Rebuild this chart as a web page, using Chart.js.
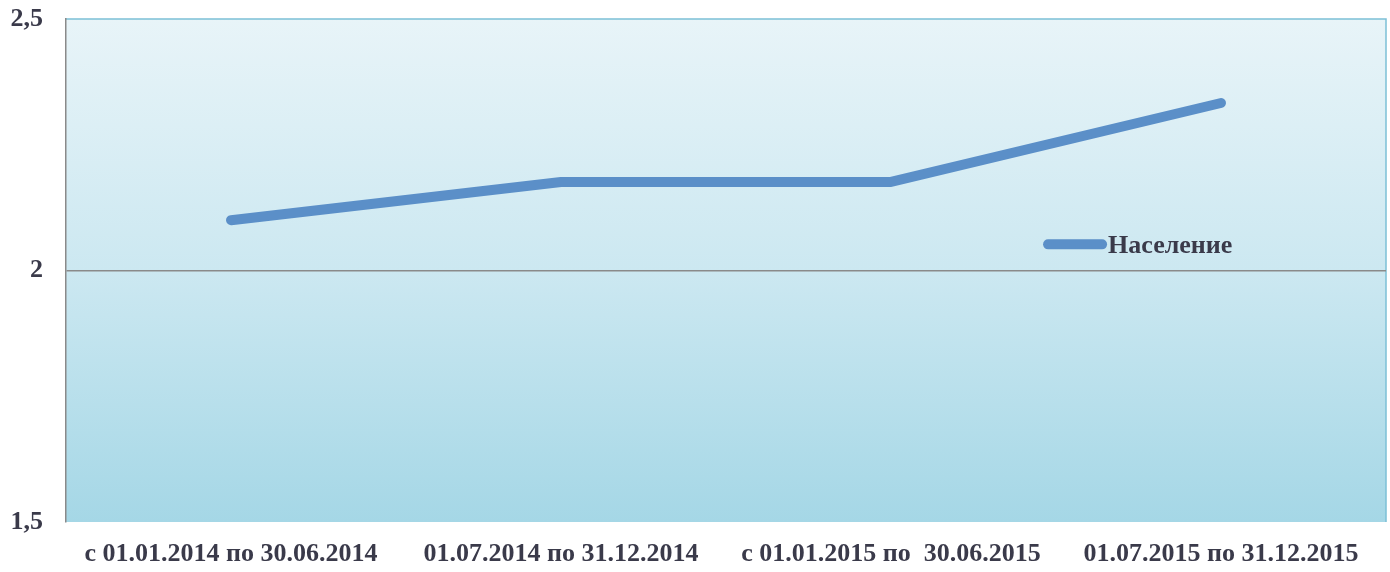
<!DOCTYPE html>
<html>
<head>
<meta charset="utf-8">
<script src="https://cdn.jsdelivr.net/npm/chart.js@4/dist/chart.umd.min.js"></script>
<style>
  html, body { margin: 0; padding: 0; background: #fff; }
  #wrap { width: 1390px; height: 572px; }
</style>
</head>
<body>
<div id="wrap"><canvas id="chart"></canvas></div>
<script>
// data
const periods = ['с 01.01.2014 по 30.06.2014', '01.07.2014 по 31.12.2014', 'с 01.01.2015 по  30.06.2015', '01.07.2015 по 31.12.2015'];
const population = [2.1, 2.176, 2.176, 2.333];
const seriesName = 'Население';
const yMin = 1.5, yMax = 2.5, yStep = 0.5;

const lineColor = '#5b8fc8';
const fontFamily = '"Liberation Serif", "Times New Roman", serif';

// gradient fill behind the plot + frame
const plotBg = {
    id: 'plotBg',
    beforeDraw(chart) {
        const { ctx, chartArea: a } = chart;
        ctx.save();
        let g = ctx.createLinearGradient(0, a.top, 0, a.bottom);
        g.addColorStop(0, '#e8f4f8');
        g.addColorStop(0.5, '#cce8f1');
        g.addColorStop(1, '#a5d7e6');
        ctx.fillStyle = g;
        ctx.fillRect(a.left, a.top, a.right - a.left, a.bottom - a.top);
        ctx.strokeStyle = '#7cc0d6';
        ctx.lineWidth = 1.5;
        ctx.beginPath();
        ctx.moveTo(a.left, a.top);
        ctx.lineTo(a.right, a.top);
        ctx.lineTo(a.right, a.bottom);
        ctx.stroke();
        ctx.restore();
    }
};

// legend drawn inside the plot
const innerLegend = {
    id: 'innerLegend',
    afterDraw(chart) {
        const { ctx, chartArea: a } = chart;
        const ds = chart.data.datasets[0];
        const x = a.left + (a.right - a.left) * 0.744;
        const y = a.top + (a.bottom - a.top) * 0.448;
        ctx.save();
        ctx.strokeStyle = ds.borderColor;
        ctx.lineWidth = 10;
        ctx.lineCap = 'round';
        ctx.beginPath();
        ctx.moveTo(x, y);
        ctx.lineTo(x + 54, y);
        ctx.stroke();
        ctx.fillStyle = '#3a3a4a';
        ctx.font = 'bold 26px ' + fontFamily;
        ctx.textBaseline = 'middle';
        ctx.fillText(ds.label, x + 60, y + 2);
        ctx.restore();
    }
};

new Chart(document.getElementById('chart'), {
    type: 'line',
    data: {
        labels: periods,
        datasets: [{
            label: seriesName,
            data: population,
            borderColor: lineColor,
            borderWidth: 10,
            borderCapStyle: 'round',
            borderJoinStyle: 'round',
            pointRadius: 0,
            tension: 0,
            fill: false
        }]
    },
    options: {
        responsive: true,
        maintainAspectRatio: false,
        animation: false,
        layout: { padding: { top: 19, right: 4, bottom: 0, left: 0 } },
        plugins: {
            legend: { display: false },
            tooltip: { enabled: false }
        },
        scales: {
            x: {
                offset: true,
                afterFit: s => { s.paddingLeft = 0; s.paddingRight = 0; s.height = 50; },
                grid: { display: false, drawTicks: false },
                border: { display: false },
                ticks: {
                    color: '#3a3a4a',
                    padding: 17,
                    maxRotation: 0,
                    autoSkip: false,
                    font: { family: fontFamily, size: 26, weight: 'bold' }
                }
            },
            y: {
                min: yMin,
                max: yMax,
                afterFit: s => { s.paddingTop = 0; s.paddingBottom = 0; s.width = 66; },
                grid: {
                    drawTicks: false,
                    color: c => c.tick && c.tick.value === 2 ? '#8a8a8a' : 'rgba(0,0,0,0)',
                    lineWidth: 1.5
                },
                border: { display: true, color: '#8a8a8a', width: 1.5 },
                ticks: {
                    stepSize: yStep,
                    color: '#3a3a4a',
                    padding: 23,
                    font: { family: fontFamily, size: 26, weight: 'bold' },
                    callback: v => String(v).replace('.', ',')
                }
            }
        }
    },
    plugins: [plotBg, innerLegend]
});
</script>
</body>
</html>
